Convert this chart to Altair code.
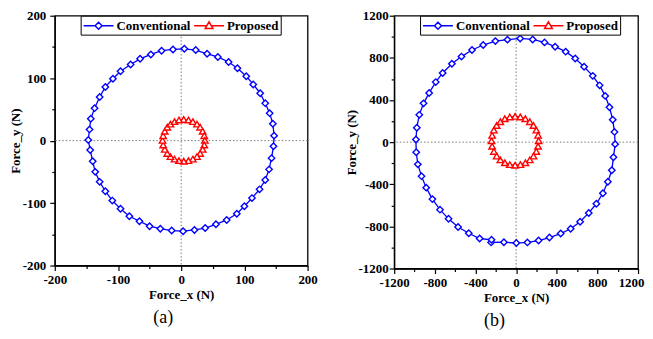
import altair as alt
import pandas as pd

# ---------------- data ----------------
SERIES = ["Conventional", "Proposed"]
COLORS = ["#0000ff", "#ff0000"]
SHAPES = ["diamond", "triangle-up"]

# panel (a)
a_conv_x = [5, 23, 41, 58, 75, 89, 103, 114, 125, 133, 140, 145, 147, 146, 143, 139, 133, 124, 112, 100,
            88, 72, 55, 38, 21, 3, -15, -33, -50, -66, -82, -96, -109, -120, -129, -136, -140, -144, -147, -145,
            -143, -137, -129, -120, -108, -96, -80, -65, -48, -31, -13]
a_conv_y = [147, 145, 139, 134, 126, 116, 103, 90, 76, 60, 44, 27, 8, -9, -28, -46, -63, -78, -92, -105,
            -117, -127, -134, -140, -143, -145, -144, -141, -137, -129, -121, -109, -96, -81, -66, -50, -33, -15, 1, 18,
            35, 52, 70, 86, 99, 111, 122, 131, 138, 144, 146]
a_prop_x = [4, 11.5, 18.5, 25, 30, 34, 36.5, 37.5, 36.5, 34, 30, 25, 18.5, 11.5, 4, -3.5, -10.5, -17, -22, -26,
            -28.5, -29.5, -28.5, -26, -22, -17, -10.5, -3.5]
a_prop_y = [34, 33, 30.5, 26.5, 21.5, 15, 8, 0.5, -7, -14, -20.5, -25.5, -29.5, -32, -33, -32, -29.5, -25.5, -20.5, -14,
            -7, 0.5, 8, 15, 21.5, 26.5, 30.5, 33]

# panel (b)
b_conv_x = [40, 163, 280, 384, 488, 582, 669, 754, 822, 877, 919, 951, 968, 975, 958, 942, 903, 854, 790, 715,
            630, 537, 439, 328, 221, 111, 2, -120, -246, -242, -359, -466, -571, -665, -749, -824, -885, -931, -967, -983,
            -986, -977, -953, -911, -856, -791, -723, -632, -538, -434, -324, -204, -85]
b_conv_y = [984, 975, 947, 906, 859, 794, 716, 629, 539, 439, 331, 212, 97, -19, -143, -267, -376, -485, -585, -672,
            -756, -822, -868, -906, -934, -952, -958, -950, -952, -927, -915, -865, -806, -728, -641, -541, -432, -323, -211, -96,
            25, 137, 259, 368, 467, 570, 657, 744, 812, 875, 922, 959, 973]
b_prop_x = [-10, 42, 91, 135, 171, 199, 216, 222, 216, 199, 171, 135, 91, 42, -10, -62, -111, -155, -191, -219,
            -236, -242, -236, -219, -191, -155, -111, -62]
b_prop_y = [245, 239, 222, 194, 158, 114, 65, 13, -39, -88, -132, -168, -196, -213, -219, -213, -196, -168, -132, -88,
            -39, 13, 65, 114, 158, 194, 222, 239]

X_TITLE = "Force_x (N)"
Y_TITLE = "Force_y (N)"
FONT = "Liberation Serif, Times New Roman, serif"

# legend glyphs: line segment with hollow marker (custom SVG paths)
LEGEND_SYMBOLS = [
    "M-1,0H0.643M1.643,0H3.286M0.643,0L1.143,-0.5L1.643,0L1.143,0.5Z",
    "M-1,0H0.825M1.461,0H3.286M1.143,-0.55L1.693,0.4L0.593,0.4Z",
]


def frames(cx, cy, px, py):
    pts = pd.DataFrame({
        "x": list(cx) + list(px),
        "y": list(cy) + list(py),
        "series": [SERIES[0]] * len(cx) + [SERIES[1]] * len(px),
        "order": list(range(len(cx))) + list(range(len(px))),
    })
    close = pd.DataFrame({"x": [cx[0], px[0]], "y": [cy[0], py[0]],
                          "series": SERIES, "order": [len(cx), len(px)]})
    line = pd.concat([pts, close], ignore_index=True)
    return pts, line


def make_axis(lim, minor, major, label_pad, title_pad, end_shift=0):
    kw = {}
    if end_shift:
        kw["labelOffset"] = {"condition": {"test": f"datum.value === {lim}", "value": end_shift}, "value": 0}
    return alt.Axis(
        values=list(range(-lim, lim + 1, minor)),
        labelExpr=f"datum.value % {major} === 0 ? '' + datum.value : ''",
        tickSize={"condition": {"test": f"datum.value % {major} === 0", "value": 5}, "value": 3},
        labelPadding=label_pad,
        titlePadding=title_pad,
        labelFlush=False,
        labelOverlap=False,
        grid=False,
        **kw,
    )


def panel(cx, cy, px, py, lim, minor, major, w, h, tag, ylab_pad, ytitle_pad, x_end_shift=0):
    pts, line = frames(cx, cy, px, py)
    sc = alt.Scale(domain=[-lim, lim], nice=False, zero=False)
    xenc = alt.X("x:Q", scale=sc, axis=make_axis(lim, minor, major, 3, 2, x_end_shift), title=X_TITLE)
    yenc = alt.Y("y:Q", scale=sc, axis=make_axis(lim, minor, major, ylab_pad, ytitle_pad), title=Y_TITLE)
    stroke_scale = alt.Scale(domain=SERIES, range=COLORS)

    vline = alt.Chart(pd.DataFrame({"x": [0]})).mark_rule(
        color="#7a7a7a", strokeDash=[1.5, 2], strokeWidth=1).encode(x=xenc)
    hline = alt.Chart(pd.DataFrame({"y": [0]})).mark_rule(
        color="#7a7a7a", strokeDash=[1.5, 2], strokeWidth=1).encode(y=yenc)

    lines = alt.Chart(line).mark_line(strokeWidth=1.3).encode(
        x=xenc, y=yenc,
        stroke=alt.Stroke("series:N", scale=stroke_scale, legend=None),
        order="order:Q",
    )
    points = alt.Chart(pts).mark_point(fill="white", opacity=1, strokeWidth=1.4, size=42).encode(
        x=xenc, y=yenc,
        stroke=alt.Stroke("series:N", scale=stroke_scale, legend=None),
        shape=alt.Shape("series:N", scale=alt.Scale(domain=SERIES, range=SHAPES), legend=None),
    )
    leg = alt.Legend(
        title=None, orient="none", legendX=26, legendY=0, direction="horizontal",
        strokeColor="black", fillColor="white", padding=2,
        symbolSize=196, symbolStrokeWidth=1.5, symbolFillColor="white",
        labelOffset=18, columnPadding=0,
        labelFont=FONT, labelFontSize=13, labelFontWeight="bold", labelColor="black",
    )
    legend_layer = alt.Chart(pts).mark_point(fill="white", opacity=1, strokeWidth=1.5, size=0).encode(
        x=xenc, y=yenc,
        stroke=alt.Stroke("series:N", scale=stroke_scale, legend=leg),
        shape=alt.Shape("series:N", scale=alt.Scale(domain=SERIES, range=LEGEND_SYMBOLS), legend=leg),
    )
    return alt.layer(vline, hline, lines, points, legend_layer).resolve_scale(
        stroke="independent", shape="independent"
    ).properties(
        width=w, height=h,
        title=alt.Title(tag, orient="bottom", anchor="middle", frame="bounds", font=FONT,
                        fontSize=18, fontWeight="normal", color="black", offset=8),
    )


pa = panel(a_conv_x, a_conv_y, a_prop_x, a_prop_y, 200, 50, 100, 254, 251, "(a)", 4, 0)
pb = panel(b_conv_x, b_conv_y, b_prop_x, b_prop_y, 1200, 200, 400, 245, 254, "(b)", 1, 0, x_end_shift=-7)

chart = alt.hconcat(pa, pb, spacing=26).properties(
    padding={"left": 0, "top": 0, "right": 0, "bottom": 0}
).configure_view(
    stroke="black", strokeWidth=1.3
).configure_axis(
    domainColor="black", domainWidth=1.3, tickColor="black", tickWidth=1.2,
    labelFont=FONT, labelFontSize=13, labelFontWeight="bold", labelColor="black",
    titleFont=FONT, titleFontSize=13, titleFontWeight="bold", titleColor="black",
)

chart.save("out.html", embed_options={"renderer": "svg", "actions": False})
